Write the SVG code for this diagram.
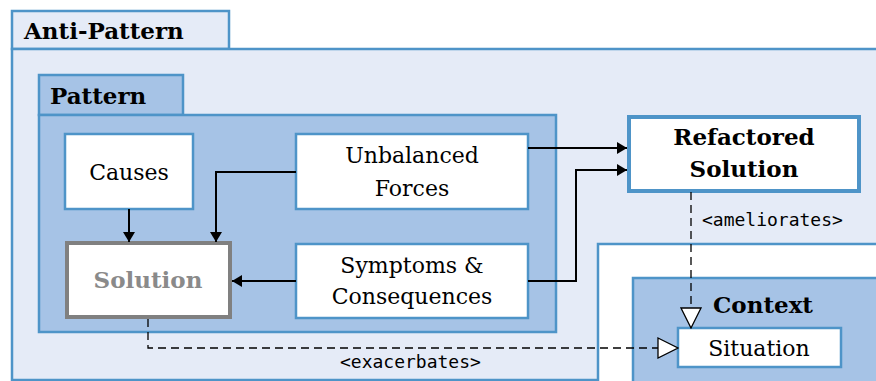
<svg xmlns="http://www.w3.org/2000/svg" width="876" height="381" viewBox="0 0 876 381">
<style>
.frame{stroke:#4e94c8;stroke-width:2.5}
.light{fill:#e5ebf7}
.mid{fill:#a6c3e6}
.box{fill:#ffffff;stroke:#4e94c8;stroke-width:2.5}
.t{font-size:22px;fill:#000;text-anchor:middle}
.b{font-weight:bold;font-size:23px}
.m{font-size:18px;fill:#000;text-anchor:start}
.c{fill:none;stroke:#000;stroke-width:2}
.d{fill:none;stroke:#000;stroke-width:1.3;stroke-dasharray:8,5}
</style>
<defs>
<marker id="arr" viewBox="0 0 10 12" refX="10" refY="6" markerWidth="10" markerHeight="12" markerUnits="userSpaceOnUse" orient="auto">
<path d="M0,0 L10,6 L0,12 z" fill="#000"/>
</marker>
<marker id="tri" viewBox="0 0 22 22" refX="21" refY="11" markerWidth="22" markerHeight="22" markerUnits="userSpaceOnUse" orient="auto">
<path d="M1,1 L21,11 L1,21 z" fill="#fff" stroke="#000" stroke-width="1.3"/>
</marker>
</defs>
<g font-family="DejaVu Serif, serif">
<g id="anti-pattern">
<rect x="12" y="11" width="217" height="38" class="light frame"/>
<rect x="12" y="49" width="880" height="331" class="light frame"/>
<text x="24" y="39" class="t b" style="text-anchor:start">Anti-Pattern</text>
</g>
<g id="pattern">
<rect x="39" y="75" width="144" height="40" class="mid frame" stroke-width="2"/>
<rect x="39" y="115" width="517" height="217" class="mid frame" stroke-width="2"/>
<text x="50" y="104" class="t b" style="text-anchor:start">Pattern</text>
</g>
<g id="context-area">
<rect x="598" y="244" width="300" height="150" fill="#fff" class="frame"/>
<rect x="633" y="278" width="270" height="120" class="mid frame"/>
<text x="763" y="313" class="t b">Context</text>
</g>
<g id="causes">
<rect x="65" y="134" width="128" height="75" class="box"/>
<text x="129" y="180" class="t">Causes</text>
</g>
<g id="solution">
<rect x="67" y="243" width="163" height="74" fill="#fff" stroke="#808080" stroke-width="4"/>
<text x="148" y="288" class="t b" style="fill:#8a8a8a">Solution</text>
</g>
<g id="unbalanced-forces">
<rect x="296" y="134" width="232" height="75" class="box"/>
<text x="412" y="163" class="t">Unbalanced</text>
<text x="412" y="196" class="t">Forces</text>
</g>
<g id="symptoms">
<rect x="296" y="244" width="232" height="74" class="box"/>
<text x="412" y="273" class="t">Symptoms &amp;</text>
<text x="412" y="304" class="t">Consequences</text>
</g>
<g id="refactored-solution">
<rect x="629" y="117" width="230" height="74" fill="#fff" stroke="#4e94c8" stroke-width="4"/>
<text x="744" y="145" class="t b">Refactored</text>
<text x="744" y="177" class="t b">Solution</text>
</g>
<g id="situation">
<rect x="678" y="328" width="163" height="39" class="box"/>
<text x="759" y="356" class="t">Situation</text>
</g>
</g>
<g id="connectors">
<path d="M129,209 V242" class="c" marker-end="url(#arr)"/>
<path d="M296,172 H216 V242" class="c" marker-end="url(#arr)"/>
<path d="M296,281 H232" class="c" marker-end="url(#arr)"/>
<path d="M528,148 H627" class="c" marker-end="url(#arr)"/>
<path d="M528,281 H576 V170 H627" class="c" marker-end="url(#arr)"/>
<path d="M691,192 V328" class="d" marker-end="url(#tri)"/>
<path d="M148,319 V348 H678" class="d" marker-end="url(#tri)"/>
<g font-family="DejaVu Sans Mono, monospace">
<text x="702" y="226" class="m">&lt;ameliorates&gt;</text>
<text x="340" y="368" class="m">&lt;exacerbates&gt;</text>
</g>
</g>
</svg>
